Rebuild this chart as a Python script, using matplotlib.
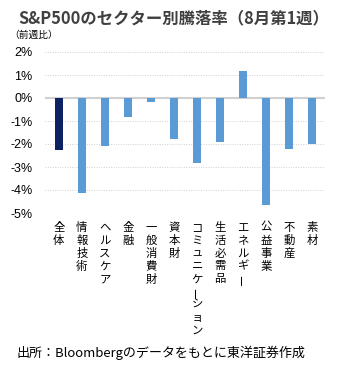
import matplotlib

matplotlib.use("Agg")
import matplotlib.pyplot as plt
from matplotlib.transforms import offset_copy

plt.rcParams["font.family"] = ["Noto Sans CJK JP", "DejaVu Sans"]

sectors = ["全体", "情報技術", "ヘルスケア", "金融", "一般消費財", "資本財",
           "コミュニケーション", "生活必需品", "エネルギー", "公益事業", "不動産", "素材"]
changes = [-2.27, -4.15, -2.07, -0.81, -0.19, -1.78,
           -2.84, -1.90, 1.17, -4.67, -2.20, -2.01]
yticks = [2, 1, 0, -1, -2, -3, -4, -5]

navy = "#0B2160"
blue = "#5B9BD5"
colors = [navy] + [blue] * (len(sectors) - 1)

fig = plt.figure(figsize=(3.4, 3.7), dpi=100, facecolor="white")
ax = fig.add_axes([45 / 340, 1 - 213 / 370, 280 / 340, 161 / 370])

x = list(range(len(sectors)))
ax.bar(x, changes, width=0.36, color=colors, zorder=3)

ax.set_ylim(-5, 2)
ax.set_xlim(-0.6, len(sectors) - 0.45)
ax.set_yticks(yticks)
ax.set_yticklabels([f"{t}%" for t in yticks], family=["Liberation Sans", "DejaVu Sans"], fontsize=9)
ax.yaxis.grid(True, linestyle=(0, (1, 1.5)), color="#cfcfcf", linewidth=0.7, zorder=0)
ax.axhline(0, color="#d0d0d0", linewidth=1.5, zorder=2)
ax.tick_params(axis="y", length=0, pad=9)
ax.tick_params(axis="x", length=0, labelbottom=False)
for s in ax.spines.values():
    s.set_visible(False)

# vertical (tategaki) category labels, one character at a time
step = 9.3
for i, name in enumerate(sectors):
    for j, ch in enumerate(name):
        tr = offset_copy(ax.get_xaxis_transform(), fig=fig, x=0, y=-(10.5 + j * step), units="points")
        ax.text(i, 0, ch, transform=tr, ha="center", va="center", fontsize=8.2,
                rotation=90 if ch == "ー" else 0, color="#000000")

fig.text(18 / 340, 1 - 18 / 370, "S&P500のセクター別騰落率（8月第1週）", ha="left", va="center",
         fontsize=11.8, fontweight="bold", color="#404040")
fig.text(9 / 340, 1 - 35 / 370, "（前週比）", ha="left", va="center", fontsize=7, color="#000000")
fig.text(16 / 340, 1 - 353 / 370, "出所：Bloombergのデータをもとに東洋証券作成", ha="left", va="center",
         fontsize=9.4, color="#000000")

fig.savefig("out.png", dpi=100, facecolor="white")
